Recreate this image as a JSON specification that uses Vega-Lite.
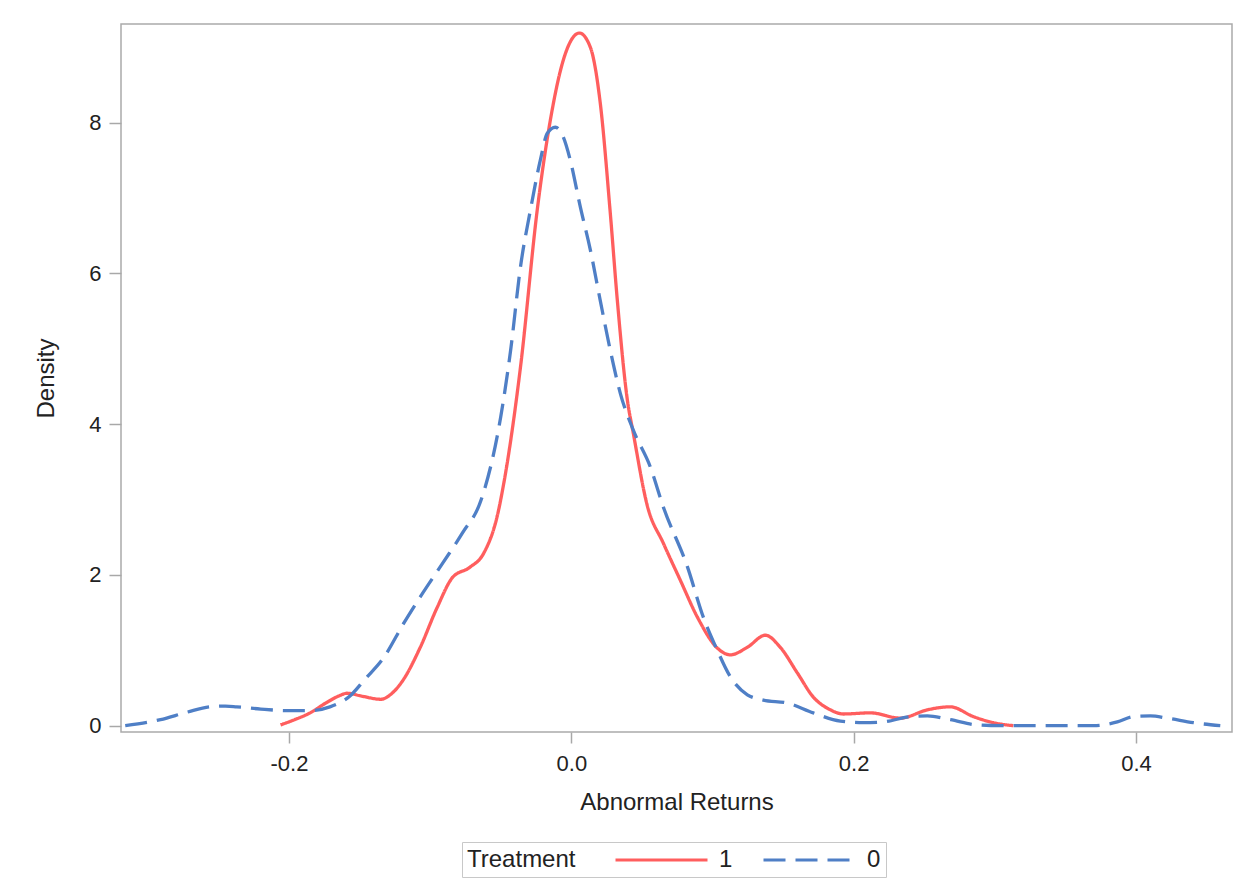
{
  "$schema": "https://vega.github.io/schema/vega-lite/v6.json",
  "width": 1111,
  "height": 708,
  "autosize": {"type": "none"},
  "padding": {"left": 121, "top": 24, "right": 18, "bottom": 158},
  "background": "white",
  "config": {
    "font": "Liberation Sans",
    "view": {"stroke": "#ABABAB", "strokeWidth": 1.5},
    "legend": {
      "title": "Treatment",
      "orient": "none",
      "legendX": 341,
      "legendY": 818,
      "direction": "horizontal",
      "titleOrient": "left",
      "titleFontSize": 24,
      "titleFontWeight": "normal",
      "titleColor": "#222222",
      "titlePadding": 38,
      "labelFontSize": 24,
      "labelColor": "#222222",
      "labelOffset": 79,
      "columnPadding": 24,
      "symbolType": "M-1,0H7",
      "symbolSize": 529,
      "symbolStrokeWidth": 3,
      "strokeColor": "#C8C8C8",
      "fillColor": "white",
      "padding": 5
    }
  },
  "data": {
    "values": [
      {"treatment": "1", "x": -0.206, "density": 0.01},
      {"treatment": "1", "x": -0.196, "density": 0.08},
      {"treatment": "1", "x": -0.185, "density": 0.17},
      {"treatment": "1", "x": -0.174, "density": 0.30},
      {"treatment": "1", "x": -0.164, "density": 0.40},
      {"treatment": "1", "x": -0.159, "density": 0.43},
      {"treatment": "1", "x": -0.148, "density": 0.39},
      {"treatment": "1", "x": -0.135, "density": 0.35},
      {"treatment": "1", "x": -0.127, "density": 0.43},
      {"treatment": "1", "x": -0.119, "density": 0.61},
      {"treatment": "1", "x": -0.107, "density": 1.04},
      {"treatment": "1", "x": -0.095, "density": 1.57},
      {"treatment": "1", "x": -0.084, "density": 1.97},
      {"treatment": "1", "x": -0.072, "density": 2.10},
      {"treatment": "1", "x": -0.062, "density": 2.29},
      {"treatment": "1", "x": -0.052, "density": 2.82},
      {"treatment": "1", "x": -0.048, "density": 3.2},
      {"treatment": "1", "x": -0.036, "density": 4.76},
      {"treatment": "1", "x": -0.0241, "density": 6.85},
      {"treatment": "1", "x": -0.0149, "density": 8.03},
      {"treatment": "1", "x": -0.0057, "density": 8.83},
      {"treatment": "1", "x": 0.0057, "density": 9.19},
      {"treatment": "1", "x": 0.0135, "density": 9.0},
      {"treatment": "1", "x": 0.0205, "density": 8.26},
      {"treatment": "1", "x": 0.0276, "density": 6.80},
      {"treatment": "1", "x": 0.0326, "density": 5.64},
      {"treatment": "1", "x": 0.0397, "density": 4.32},
      {"treatment": "1", "x": 0.0439, "density": 3.88},
      {"treatment": "1", "x": 0.0538, "density": 2.92},
      {"treatment": "1", "x": 0.0652, "density": 2.42},
      {"treatment": "1", "x": 0.0772, "density": 1.93},
      {"treatment": "1", "x": 0.0893, "density": 1.44},
      {"treatment": "1", "x": 0.1034, "density": 1.03},
      {"treatment": "1", "x": 0.1126, "density": 0.94},
      {"treatment": "1", "x": 0.1247, "density": 1.04},
      {"treatment": "1", "x": 0.1374, "density": 1.20},
      {"treatment": "1", "x": 0.1480, "density": 1.04},
      {"treatment": "1", "x": 0.1601, "density": 0.70},
      {"treatment": "1", "x": 0.1714, "density": 0.38},
      {"treatment": "1", "x": 0.1835, "density": 0.21},
      {"treatment": "1", "x": 0.1927, "density": 0.155},
      {"treatment": "1", "x": 0.2118, "density": 0.17},
      {"treatment": "1", "x": 0.2331, "density": 0.10},
      {"treatment": "1", "x": 0.2522, "density": 0.21},
      {"treatment": "1", "x": 0.2685, "density": 0.25},
      {"treatment": "1", "x": 0.2848, "density": 0.12},
      {"treatment": "1", "x": 0.2989, "density": 0.04},
      {"treatment": "1", "x": 0.3131, "density": 0.0},
      {"treatment": "0", "x": -0.316, "density": 0.0},
      {"treatment": "0", "x": -0.291, "density": 0.08},
      {"treatment": "0", "x": -0.272, "density": 0.18},
      {"treatment": "0", "x": -0.256, "density": 0.25},
      {"treatment": "0", "x": -0.245, "density": 0.26},
      {"treatment": "0", "x": -0.237, "density": 0.25},
      {"treatment": "0", "x": -0.220, "density": 0.22},
      {"treatment": "0", "x": -0.201, "density": 0.20},
      {"treatment": "0", "x": -0.185, "density": 0.20},
      {"treatment": "0", "x": -0.171, "density": 0.25},
      {"treatment": "0", "x": -0.157, "density": 0.39},
      {"treatment": "0", "x": -0.146, "density": 0.62},
      {"treatment": "0", "x": -0.133, "density": 0.90},
      {"treatment": "0", "x": -0.119, "density": 1.35},
      {"treatment": "0", "x": -0.107, "density": 1.71},
      {"treatment": "0", "x": -0.091, "density": 2.16},
      {"treatment": "0", "x": -0.077, "density": 2.56},
      {"treatment": "0", "x": -0.064, "density": 2.99},
      {"treatment": "0", "x": -0.050, "density": 4.10},
      {"treatment": "0", "x": -0.043, "density": 4.98},
      {"treatment": "0", "x": -0.036, "density": 6.09},
      {"treatment": "0", "x": -0.029, "density": 6.84},
      {"treatment": "0", "x": -0.022, "density": 7.50},
      {"treatment": "0", "x": -0.017, "density": 7.86},
      {"treatment": "0", "x": -0.0113, "density": 7.94},
      {"treatment": "0", "x": -0.0057, "density": 7.81},
      {"treatment": "0", "x": -0.0007, "density": 7.50},
      {"treatment": "0", "x": 0.0064, "density": 6.88},
      {"treatment": "0", "x": 0.0135, "density": 6.31},
      {"treatment": "0", "x": 0.0205, "density": 5.64},
      {"treatment": "0", "x": 0.0276, "density": 4.98},
      {"treatment": "0", "x": 0.0347, "density": 4.41},
      {"treatment": "0", "x": 0.0439, "density": 3.92},
      {"treatment": "0", "x": 0.0560, "density": 3.43},
      {"treatment": "0", "x": 0.0652, "density": 2.9},
      {"treatment": "0", "x": 0.0822, "density": 2.11},
      {"treatment": "0", "x": 0.0935, "density": 1.44},
      {"treatment": "0", "x": 0.1034, "density": 1.0},
      {"treatment": "0", "x": 0.1126, "density": 0.65},
      {"treatment": "0", "x": 0.1247, "density": 0.41},
      {"treatment": "0", "x": 0.1360, "density": 0.34},
      {"treatment": "0", "x": 0.1530, "density": 0.30},
      {"treatment": "0", "x": 0.1714, "density": 0.17},
      {"treatment": "0", "x": 0.1906, "density": 0.06},
      {"treatment": "0", "x": 0.2068, "density": 0.04},
      {"treatment": "0", "x": 0.2210, "density": 0.05},
      {"treatment": "0", "x": 0.2401, "density": 0.12},
      {"treatment": "0", "x": 0.2522, "density": 0.13},
      {"treatment": "0", "x": 0.2685, "density": 0.08},
      {"treatment": "0", "x": 0.2876, "density": 0.01},
      {"treatment": "0", "x": 0.3039, "density": 0.0},
      {"treatment": "0", "x": 0.3393, "density": 0.0},
      {"treatment": "0", "x": 0.3698, "density": 0.0},
      {"treatment": "0", "x": 0.3868, "density": 0.05},
      {"treatment": "0", "x": 0.3981, "density": 0.12},
      {"treatment": "0", "x": 0.4102, "density": 0.13},
      {"treatment": "0", "x": 0.4222, "density": 0.10},
      {"treatment": "0", "x": 0.4406, "density": 0.04},
      {"treatment": "0", "x": 0.4597, "density": 0.0}
    ]
  },
  "mark": {"type": "line", "interpolate": "monotone", "strokeWidth": 3.3, "clip": true},
  "encoding": {
    "x": {
      "field": "x",
      "type": "quantitative",
      "scale": {"domain": [-0.319, 0.468], "nice": false, "zero": false},
      "axis": {
        "title": "Abnormal Returns",
        "values": [-0.2, 0, 0.2, 0.4],
        "labelExpr": "datum.value < 0 ? '-' + format(-datum.value, '.1f') : format(datum.value, '.1f')",
        "grid": false,
        "domain": false,
        "tickColor": "#A8A8A8",
        "tickSize": 11,
        "tickWidth": 1.5,
        "labelPadding": 10,
        "labelFontSize": 22,
        "labelColor": "#222222",
        "titleFontSize": 24,
        "titleFontWeight": "normal",
        "titleColor": "#222222",
        "titlePadding": 16
      }
    },
    "y": {
      "field": "density",
      "type": "quantitative",
      "scale": {"domain": [-0.084, 9.31], "nice": false, "zero": false},
      "axis": {
        "title": "Density",
        "values": [0, 2, 4, 6, 8],
        "format": "d",
        "grid": false,
        "domain": false,
        "tickColor": "#A8A8A8",
        "tickSize": 12,
        "tickWidth": 1.5,
        "labelPadding": 8,
        "labelFontSize": 22,
        "labelColor": "#222222",
        "titleFontSize": 24,
        "titleFontWeight": "normal",
        "titleColor": "#222222",
        "titlePadding": 30
      }
    },
    "color": {
      "field": "treatment",
      "type": "nominal",
      "title": "Treatment",
      "scale": {"domain": ["1", "0"], "range": ["#FF5E5E", "#4F7FC6"]}
    },
    "strokeDash": {
      "field": "treatment",
      "type": "nominal",
      "title": "Treatment",
      "scale": {"domain": ["1", "0"], "range": [[1, 0], [22, 10]]}
    }
  }
}
